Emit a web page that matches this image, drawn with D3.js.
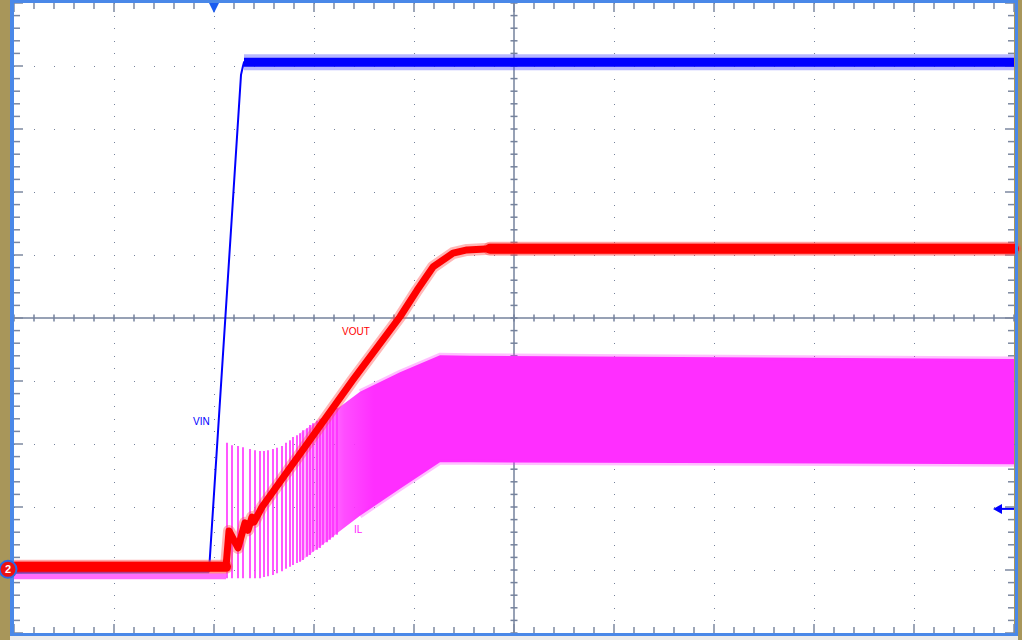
<!DOCTYPE html>
<html>
<head>
<meta charset="utf-8">
<script src="https://cdn.jsdelivr.net/npm/d3@7"></script>
<style>
  html, body { margin: 0; padding: 0; background: #a8965a; }
  svg { display: block; }
</style>
</head>
<body>
<svg id="scope" width="1022" height="640"></svg>
<script>
// time in divisions relative to trigger, amplitude in divisions from screen centre
const vinTime = [-2.00, -0.05, 0.27, 0.29, 0.30, 8.00]
const vinLevel = [-4.03, -4.02, 3.86, 4.00, 4.06, 4.06]

const voutTime = [-2.00, 0.12, 0.15, 0.24, 0.31, 0.34, 0.38, 0.40, 0.48, 1.39, 1.86, 2.03, 2.19, 2.39, 2.53, 2.76, 8.00]
const voutLevel = [-3.95, -3.95, -3.38, -3.65, -3.25, -3.37, -3.16, -3.24, -3.00, -0.98, 0.02, 0.44, 0.81, 1.03, 1.08, 1.10, 1.10]

// inductor current: idle baseline, single switching pulses at start-up, then the dense ripple band
const ilBaseTime = [-2.00, 0.12]
const ilBaseLevel = [-4.10, -4.10]

const ilPulseTime = [0.13, 0.18, 0.24, 0.29, 0.36, 0.41, 0.46, 0.50, 0.54, 0.59, 0.63, 0.68, 0.72, 0.76,
    0.79, 0.83, 0.86, 0.89, 0.93, 0.96, 0.99, 1.03, 1.06, 1.09, 1.13, 1.16, 1.19, 1.23]
const ilPulseTop = [-1.98, -2.02, -2.03, -2.05, -2.08, -2.10, -2.11, -2.11, -2.10, -2.08, -2.06, -2.03, -1.98, -1.94,
    -1.89, -1.86, -1.83, -1.78, -1.75, -1.70, -1.67, -1.63, -1.60, -1.57, -1.54, -1.49, -1.46, -1.43]
const ilPulseBottom = [-4.13, -4.13, -4.13, -4.13, -4.13, -4.13, -4.13, -4.11, -4.10, -4.08, -4.05, -4.02, -3.98, -3.95,
    -3.92, -3.89, -3.87, -3.84, -3.79, -3.76, -3.71, -3.68, -3.65, -3.60, -3.56, -3.52, -3.48, -3.44]

const ilBandTime = [0.86, 1.09, 1.26, 1.46, 1.86, 2.26, 2.56, 8.00]
const ilBandTop = [-1.83, -1.57, -1.41, -1.17, -0.86, -0.59, -0.60, -0.65]
const ilBandBottom = [-3.87, -3.59, -3.38, -3.14, -2.71, -2.29, -2.29, -2.32]

const traceLabels = ["VIN", "VOUT", "IL"]
const labelTime = [-0.21, 1.28, 1.40]
const labelLevel = [-1.70, -0.27, -3.41]
const labelColors = ["#0000ff", "#ff0000", "#ff22ff"]

const triggerTime = 0
const triggerLevel = -3.03
const ch2Ground = -3.99

function setup_ScopeScreen() {
    const svg = d3.select("#scope")
    const plot = { left: 14, right: 1014, top: 3, bottom: 633 }

    const x = d3.scaleLinear().domain([-2, 8]).range([plot.left, plot.right])
    const y = d3.scaleLinear().domain([-5, 5]).range([plot.bottom, plot.top])

    const GRID = "#75829c"
    const BLUE = "#0000ff", RED = "#ff0000", PINK = "#ff2eff"

    svg.append("rect").attr("width", 1022).attr("height", 640).attr("fill", "#a8965a")
    svg.append("rect").attr("x", 10).attr("y", 636).attr("width", 1008).attr("height", 4).attr("fill", "#ececec")
    svg.append("rect")
        .attr("x", plot.left).attr("y", plot.top)
        .attr("width", plot.right - plot.left).attr("height", plot.bottom - plot.top)
        .attr("fill", "#ffffff")

    // graticule
    const majorX = d3.range(-2, 8.001, 1), majorY = d3.range(-5, 5.001, 1)
    const minorX = d3.range(-2, 8.001, 0.2), minorY = d3.range(-5, 5.001, 0.2)
    const grid = svg.append("g").attr("fill", GRID)

    majorX.filter(t => t > -2 && t < 8 && t !== 3).forEach(t => {
        grid.selectAll(null).data(minorY).enter().append("rect")
            .attr("x", Math.round(x(t))).attr("y", d => Math.round(y(d)))
            .attr("width", 1).attr("height", 1)
    })
    majorY.filter(v => v > -5 && v < 5 && v !== 0).forEach(v => {
        grid.selectAll(null).data(minorX).enter().append("rect")
            .attr("x", d => Math.round(x(d))).attr("y", Math.round(y(v)))
            .attr("width", 1).attr("height", 1)
    })

    const axes = svg.append("g").attr("stroke", GRID).attr("stroke-width", 1.5)
    axes.append("line").attr("x1", x(3)).attr("x2", x(3)).attr("y1", plot.top).attr("y2", plot.bottom)
    axes.append("line").attr("x1", plot.left).attr("x2", plot.right).attr("y1", y(0)).attr("y2", y(0))
    axes.selectAll(null).data(minorX).enter().append("line")
        .attr("x1", d => x(d)).attr("x2", d => x(d))
        .attr("y1", y(0) - 3.5).attr("y2", y(0) + 3.5)
    axes.selectAll(null).data(minorY).enter().append("line")
        .attr("x1", x(3) - 3.5).attr("x2", x(3) + 3.5)
        .attr("y1", d => y(d)).attr("y2", d => y(d))

    const isMajor = d => Math.abs(d - Math.round(d)) < 1e-6
    const edge = svg.append("g").attr("stroke", "#7c88a0").attr("stroke-width", 1.5)
    edge.selectAll(null).data(minorX).enter().append("line")
        .attr("x1", d => x(d)).attr("x2", d => x(d))
        .attr("y1", plot.top).attr("y2", d => plot.top + (isMajor(d) ? 9 : 6))
    edge.selectAll(null).data(minorX).enter().append("line")
        .attr("x1", d => x(d)).attr("x2", d => x(d))
        .attr("y1", plot.bottom).attr("y2", d => plot.bottom - (isMajor(d) ? 9 : 6))
    edge.selectAll(null).data(minorY).enter().append("line")
        .attr("y1", d => y(d)).attr("y2", d => y(d))
        .attr("x1", plot.left).attr("x2", d => plot.left + (isMajor(d) ? 9 : 6))
    edge.selectAll(null).data(minorY).enter().append("line")
        .attr("y1", d => y(d)).attr("y2", d => y(d))
        .attr("x1", plot.right).attr("x2", d => plot.right - (isMajor(d) ? 9 : 6))

    const traces = svg.append("g")

    // IL
    const defs = svg.append("defs")
    const grad = defs.append("linearGradient").attr("id", "ilFade")
        .attr("gradientUnits", "userSpaceOnUse")
        .attr("x1", x(0.86)).attr("x2", x(1.6)).attr("y1", 0).attr("y2", 0)
    grad.append("stop").attr("offset", 0).attr("stop-color", PINK).attr("stop-opacity", 0.3)
    grad.append("stop").attr("offset", 0.6).attr("stop-color", PINK).attr("stop-opacity", 0.85)
    grad.append("stop").attr("offset", 1).attr("stop-color", PINK).attr("stop-opacity", 1)

    const band = ilBandTime.map((t, i) => ({ t: t, top: ilBandTop[i], bottom: ilBandBottom[i] }))
    traces.append("path")
        .attr("d", d3.area().x(d => x(d.t)).y0(d => y(d.bottom)).y1(d => y(d.top))(band))
        .attr("fill", "url(#ilFade)")
    const edgeLine = key => d3.line().x(d => x(d.t)).y(d => y(d[key]))(band.filter(d => d.t >= 1.46))
    traces.append("path").attr("d", edgeLine("top"))
        .attr("fill", "none").attr("stroke", PINK).attr("stroke-width", 5).attr("stroke-opacity", 0.3)
    traces.append("path").attr("d", edgeLine("bottom"))
        .attr("fill", "none").attr("stroke", PINK).attr("stroke-width", 5).attr("stroke-opacity", 0.3)

    traces.selectAll(null).data(ilPulseTime).enter().append("line")
        .attr("x1", d => x(d)).attr("x2", d => x(d))
        .attr("y1", (d, i) => y(ilPulseTop[i])).attr("y2", (d, i) => y(ilPulseBottom[i]))
        .attr("stroke", PINK).attr("stroke-width", 1.6)

    const line = d3.line().x(d => x(d[0])).y(d => y(d[1]))
    const ilBase = d3.zip(ilBaseTime, ilBaseLevel)
    traces.append("path").attr("d", line(ilBase))
        .attr("fill", "none").attr("stroke", PINK).attr("stroke-width", 6).attr("stroke-opacity", 0.7)

    // VIN
    const vin = d3.zip(vinTime, vinLevel)
    traces.append("path").attr("d", line(vin.slice(0, 2)))
        .attr("fill", "none").attr("stroke", "#5a5aff").attr("stroke-width", 4)
    traces.append("path").attr("d", line(vin.slice(4)))
        .attr("fill", "none").attr("stroke", "#4d4dff").attr("stroke-width", 16).attr("stroke-opacity", 0.4)
    traces.append("path").attr("d", line(vin.slice(4)))
        .attr("fill", "none").attr("stroke", BLUE).attr("stroke-width", 9)
    traces.append("path").attr("d", line(vin))
        .attr("fill", "none").attr("stroke", BLUE).attr("stroke-width", 2)

    // VOUT, flat stretches carry a wider noise band than the ramp
    const vout = d3.zip(voutTime, voutLevel)
    const voutFlats = [vout.slice(0, 2), vout.slice(15)]
    traces.append("path").attr("d", line(vout))
        .attr("fill", "none").attr("stroke", "#ff4a4a").attr("stroke-width", 12).attr("stroke-opacity", 0.4)
        .attr("stroke-linejoin", "round")
    voutFlats.forEach(seg => {
        traces.append("path").attr("d", line(seg))
            .attr("fill", "none").attr("stroke", "#ff5050").attr("stroke-width", 14).attr("stroke-opacity", 0.45)
            .attr("stroke-linecap", "round")
        traces.append("path").attr("d", line(seg))
            .attr("fill", "none").attr("stroke", RED).attr("stroke-width", 10)
            .attr("stroke-linecap", "round")
    })
    traces.append("path").attr("d", line(vout))
        .attr("fill", "none").attr("stroke", RED).attr("stroke-width", 7).attr("stroke-linejoin", "round")

    // trace names
    svg.append("g").selectAll("text").data(traceLabels).enter().append("text")
        .attr("x", (d, i) => x(labelTime[i]))
        .attr("y", (d, i) => y(labelLevel[i]))
        .attr("fill", (d, i) => labelColors[i])
        .attr("font-family", "'Liberation Sans', Arial, sans-serif")
        .attr("font-size", 10)
        .text(d => d)

    // trigger position and level markers
    const tx = x(triggerTime)
    svg.append("path")
        .attr("d", `M${tx - 5},${plot.top} L${tx + 5},${plot.top} L${tx},${plot.top + 10} Z`)
        .attr("fill", "#1a5cf0")
    const ty = y(triggerLevel)
    svg.append("path")
        .attr("d", `M${plot.right - 21},${ty} L${plot.right - 12},${ty - 5} L${plot.right - 12},${ty + 5} Z`)
        .attr("fill", BLUE)
    svg.append("line")
        .attr("x1", plot.right - 13).attr("x2", plot.right).attr("y1", ty).attr("y2", ty)
        .attr("stroke", BLUE).attr("stroke-width", 2)

    // frame
    const FRAME = "#4a88e8"
    svg.append("rect").attr("x", 10).attr("y", 0).attr("width", 4).attr("height", 636).attr("fill", FRAME)
    svg.append("rect").attr("x", plot.right + 1).attr("y", 0).attr("width", 3).attr("height", 636).attr("fill", FRAME)
    svg.append("rect").attr("x", 10).attr("y", 0).attr("width", 1008).attr("height", 3).attr("fill", FRAME)
    svg.append("rect").attr("x", 10).attr("y", plot.bottom).attr("width", 1008).attr("height", 3).attr("fill", FRAME)

    // channel 2 ground marker
    const gy = y(ch2Ground)
    svg.append("circle").attr("cx", 8).attr("cy", gy).attr("r", 8.5)
        .attr("fill", "#ee1111").attr("stroke", "#2a6be8").attr("stroke-width", 2)
    svg.append("text").attr("x", 8).attr("y", gy + 4)
        .attr("text-anchor", "middle")
        .attr("font-family", "'Liberation Sans', Arial, sans-serif")
        .attr("font-size", 11).attr("font-weight", "bold")
        .attr("fill", "#ffffff")
        .text("2")
}

setup_ScopeScreen()
</script>
</body>
</html>
